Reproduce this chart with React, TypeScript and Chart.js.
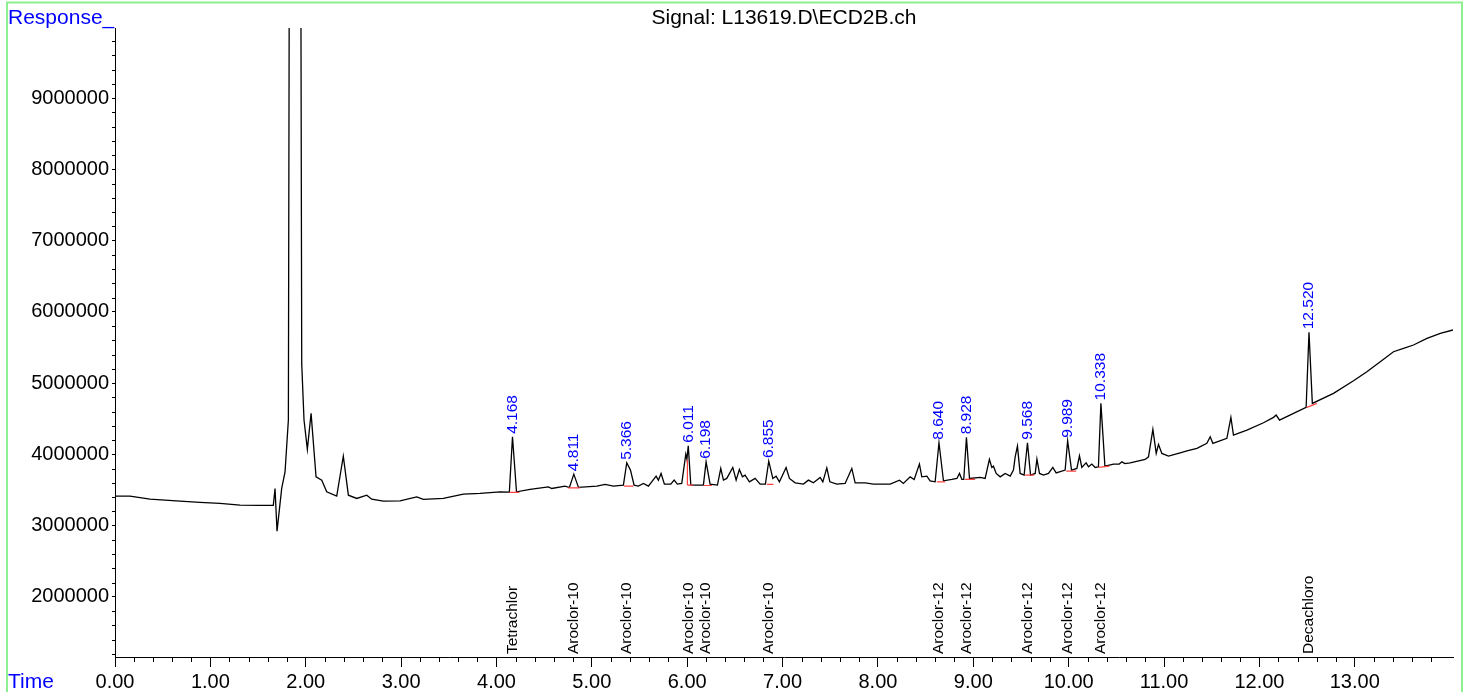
import React, { useEffect, useRef } from 'react';
import { Chart, registerables } from 'chart.js';

Chart.register(...registerables);

const FONT = '"Liberation Sans", Arial, Helvetica, sans-serif';

const chartTitle = 'Signal: L13619.D\\ECD2B.ch';
const yAxisTitle = 'Response_';
const xAxisTitle = 'Time';

const xMin = 0;
const xMax = 14.03;
const yMin = 1157300;
const yMax = 9983200;
const xMajorTicks = [0, 1, 2, 3, 4, 5, 6, 7, 8, 9, 10, 11, 12, 13];
const xMinorStep = 0.2;
const yMajorTicks = [2000000, 3000000, 4000000, 5000000, 6000000, 7000000, 8000000, 9000000];
const yMinorStep = 200000;

// chromatogram trace (time in min, response)
const traceTime = [
  0, 0.157, 0.367, 0.682, 0.891, 1.101, 1.311, 1.521, 1.66, 1.678,
  1.699, 1.748, 1.783, 1.818, 1.835, 1.89, 1.94, 1.958, 1.982, 2.017,
  2.056, 2.108, 2.168, 2.22, 2.325, 2.394, 2.447, 2.535, 2.64, 2.692,
  2.814, 2.989, 3.164, 3.233, 3.443, 3.653, 3.828, 4.038, 4.135, 4.168,
  4.21, 4.352, 4.544, 4.58, 4.719, 4.765, 4.811, 4.86, 5.052, 5.139,
  5.226, 5.331, 5.366, 5.405, 5.443, 5.488, 5.541, 5.593, 5.674, 5.698,
  5.726, 5.761, 5.828, 5.863, 5.897, 5.943, 5.985, 5.997, 6.011, 6.038,
  6.135, 6.17, 6.198, 6.24, 6.317, 6.352, 6.38, 6.415, 6.478, 6.513,
  6.547, 6.579, 6.607, 6.652, 6.712, 6.765, 6.82, 6.855, 6.898, 6.932,
  6.967, 7.037, 7.072, 7.132, 7.219, 7.271, 7.323, 7.394, 7.422, 7.464,
  7.496, 7.569, 7.656, 7.726, 7.761, 7.866, 7.953, 8.128, 8.226, 8.267,
  8.338, 8.38, 8.435, 8.46, 8.513, 8.547, 8.6, 8.64, 8.687, 8.775,
  8.828, 8.855, 8.88, 8.9, 8.928, 8.96, 9.072, 9.124, 9.169, 9.194,
  9.211, 9.24, 9.282, 9.334, 9.387, 9.421, 9.439, 9.463, 9.491, 9.533,
  9.568, 9.6, 9.649, 9.667, 9.694, 9.736, 9.788, 9.834, 9.869, 9.963,
  9.989, 10.03, 10.086, 10.113, 10.138, 10.183, 10.208, 10.243, 10.278, 10.312,
  10.338, 10.38, 10.47, 10.53, 10.558, 10.59, 10.645, 10.802, 10.837, 10.883,
  10.918, 10.942, 10.977, 11.047, 11.169, 11.24, 11.345, 11.449, 11.484, 11.512,
  11.659, 11.701, 11.728, 11.869, 12.043, 12.148, 12.176, 12.211, 12.358, 12.49,
  12.52, 12.555, 12.777, 12.987, 13.127, 13.267, 13.406, 13.511, 13.616, 13.757,
  13.897, 14.03,
];
const traceResponse = [
  3414000, 3414000, 3372000, 3344000, 3326000, 3312000, 3288000, 3284000, 3284000, 3522000,
  2923000, 3522000, 3756000, 4482000, 16000000, 25000000, 16000000, 5270000, 4482000, 4070000,
  4576000, 3685000, 3639000, 3475000, 3414000, 3976000, 3428000, 3382000, 3428000, 3372000,
  3344000, 3348000, 3404000, 3368000, 3382000, 3442000, 3452000, 3475000, 3470000, 4247000,
  3475000, 3508000, 3545000, 3522000, 3555000, 3535000, 3723000, 3537000, 3555000, 3579000,
  3555000, 3569000, 3882000, 3780000, 3569000, 3555000, 3593000, 3555000, 3695000, 3639000,
  3733000, 3583000, 3583000, 3639000, 3583000, 3593000, 4004000, 3930000, 4121000, 3569000,
  3569000, 3570000, 3896000, 3583000, 3569000, 3803000, 3639000, 3663000, 3817000, 3639000,
  3789000, 3685000, 3709000, 3615000, 3663000, 3583000, 3583000, 3906000, 3663000, 3695000,
  3615000, 3817000, 3663000, 3601000, 3583000, 3639000, 3601000, 3677000, 3615000, 3812000,
  3615000, 3583000, 3593000, 3803000, 3601000, 3601000, 3583000, 3583000, 3639000, 3593000,
  3685000, 3649000, 3864000, 3685000, 3695000, 3629000, 3615000, 4163000, 3629000, 3649000,
  3663000, 3733000, 3649000, 3649000, 4239000, 3663000, 3677000, 3663000, 3930000, 3817000,
  3835000, 3733000, 3685000, 3733000, 3695000, 3779000, 3966000, 4117000, 3733000, 3709000,
  4163000, 3709000, 3733000, 3934000, 3733000, 3709000, 3733000, 3817000, 3741000, 3780000,
  4191000, 3780000, 3803000, 3980000, 3817000, 3882000, 3826000, 3864000, 3817000, 3826000,
  4716000, 3836000, 3864000, 3864000, 3896000, 3870000, 3882000, 3930000, 3966000, 4351000,
  4014000, 4140000, 4014000, 3976000, 4022000, 4050000, 4084000, 4155000, 4247000, 4155000,
  4225000, 4520000, 4271000, 4341000, 4444000, 4520000, 4552000, 4482000, 4576000, 4660000,
  5714000, 4716000, 4857000, 5034000, 5160000, 5300000, 5441000, 5489000, 5535000, 5629000,
  5699000, 5746000,
];

// integrated peaks
const peakTimes = [4.168, 4.811, 5.366, 6.011, 6.198, 6.855, 8.64, 8.928, 9.568, 9.989, 10.338, 12.52];
const peakLabels = ['4.168', '4.811', '5.366', '6.011', '6.198', '6.855', '8.640', '8.928', '9.568', '9.989', '10.338', '12.520'];
const compoundNames = [
  'Tetrachlor', 'Aroclor-10', 'Aroclor-10', 'Aroclor-10', 'Aroclor-10', 'Aroclor-10',
  'Aroclor-12', 'Aroclor-12', 'Aroclor-12', 'Aroclor-12', 'Aroclor-12', 'Decachloro',
];

// integration baselines (red)
const baseStartTime = [4.135, 4.754, 5.338, 6.002, 6.17, 6.835, 8.618, 8.914, 9.544, 9.974, 10.312, 12.498];
const baseEndTime = [4.24, 4.877, 5.436, 6.065, 6.258, 6.904, 8.705, 9.019, 9.638, 10.079, 10.428, 12.603];
const baseStartValue = [3466000, 3531000, 3555000, 3569000, 3564000, 3579000, 3615000, 3649000, 3709000, 3765000, 3817000, 4660000];
const baseEndValue = [3466000, 3531000, 3555000, 3569000, 3564000, 3579000, 3615000, 3649000, 3709000, 3765000, 3836000, 4716000];
const dropLineTime = [6.002];
const dropLineTop = [3930000];
const dropLineBottom = [3569000];

export default function App() {
  const ref = useRef<HTMLCanvasElement>(null);

  useEffect(() => {
    const canvas = ref.current;
    if (!canvas) return;
    const ctx = canvas.getContext('2d');
    if (!ctx) return;

    const traceData = traceTime.map((t, i) => ({ x: t, y: traceResponse[i] }));
    const baseData: any[] = [];
    baseStartTime.forEach((t, i) => {
      baseData.push({ x: t, y: baseStartValue[i] });
      baseData.push({ x: baseEndTime[i], y: baseEndValue[i] });
      baseData.push({ x: baseEndTime[i], y: null });
    });
    dropLineTime.forEach((t, i) => {
      baseData.push({ x: t, y: dropLineBottom[i] });
      baseData.push({ x: t, y: dropLineTop[i] });
      baseData.push({ x: t, y: null });
    });

    const overlay = {
      id: 'overlay',
      beforeDraw(chart: any) {
        const c = chart.ctx;
        c.save();
        c.fillStyle = '#ffffff';
        c.fillRect(0, 0, chart.width, chart.height);
        c.restore();
      },
      afterDraw(chart: any) {
        const c = chart.ctx as CanvasRenderingContext2D;
        const area = chart.chartArea;
        const xs = chart.scales.x;
        const ys = chart.scales.y;
        c.save();

        // minor ticks
        c.strokeStyle = '#000';
        c.lineWidth = 1;
        c.beginPath();
        for (let i = 1; i * xMinorStep < xMax; i++) {
          if (i % 5 === 0) continue;
          const px = Math.round(xs.getPixelForValue(i * xMinorStep)) + 0.5;
          c.moveTo(px, area.bottom);
          c.lineTo(px, area.bottom + 5);
        }
        for (let i = Math.ceil(yMin / yMinorStep); i * yMinorStep <= yMax; i++) {
          if (i % 5 === 0) continue;
          const py = Math.round(ys.getPixelForValue(i * yMinorStep)) + 0.5;
          c.moveTo(area.left - 3, py);
          c.lineTo(area.left, py);
        }
        c.stroke();

        // retention time labels + compound names
        c.font = `15.5px ${FONT}`;
        c.textAlign = 'left';
        c.textBaseline = 'middle';
        peakTimes.forEach((t, i) => {
          const idx = traceTime.indexOf(t);
          const apex = traceResponse[idx];
          const px = xs.getPixelForValue(t);
          const py = ys.getPixelForValue(apex);
          c.save();
          c.translate(px, py - 3);
          c.rotate(-Math.PI / 2);
          c.fillStyle = '#0000ff';
          c.fillText(peakLabels[i], 0, 0);
          c.restore();
          c.save();
          c.translate(px, area.bottom - 3);
          c.rotate(-Math.PI / 2);
          c.fillStyle = '#000000';
          c.fillText(compoundNames[i], 0, 0);
          c.restore();
        });

        // titles
        c.textBaseline = 'alphabetic';
        c.font = `21px ${FONT}`;
        c.fillStyle = '#0000ff';
        c.textAlign = 'left';
        c.fillText(yAxisTitle, 8, 23.5);
        c.fillText(xAxisTitle, 8, 688);
        c.fillStyle = '#000000';
        c.textAlign = 'center';
        c.fillText(chartTitle, (area.left + area.right) / 2, 23.5);

        // frame
        c.strokeStyle = '#8ef08e';
        c.lineWidth = 2;
        c.strokeRect(7, 2.5, 1455, 800);
        c.restore();
      },
    };

    const chart = new Chart(ctx, {
      type: 'line',
      data: {
        datasets: [
          {
            data: baseData,
            borderColor: '#ff4040',
            borderWidth: 1.2,
            pointRadius: 0,
            spanGaps: false,
            order: 0,
          },
          {
            data: traceData,
            borderColor: '#000000',
            borderWidth: 1.3,
            pointRadius: 0,
            tension: 0,
            order: 1,
          },
        ],
      },
      options: {
        responsive: false,
        animation: false,
        devicePixelRatio: 1,
        events: [],
        layout: { padding: { top: 28, right: 16, bottom: 0, left: 0 } },
        plugins: {
          legend: { display: false },
          tooltip: { enabled: false },
          title: { display: false },
        },
        scales: {
          x: {
            type: 'linear',
            position: 'bottom',
            min: xMin,
            max: xMax,
            afterBuildTicks: (s: any) => {
              s.ticks = xMajorTicks.map((v) => ({ value: v }));
            },
            afterFit: (s: any) => {
              s.height = 35;
            },
            grid: { drawOnChartArea: false, drawTicks: true, tickLength: 10, color: '#000', tickWidth: 1 },
            border: { display: true, color: '#000', width: 1 },
            ticks: {
              callback: (v: any) => Number(v).toFixed(2),
              font: { size: 20, family: FONT },
              color: '#000',
              padding: 3,
              maxRotation: 0,
              autoSkip: false,
            },
          },
          y: {
            type: 'linear',
            min: yMin,
            max: yMax,
            afterBuildTicks: (s: any) => {
              s.ticks = yMajorTicks.map((v) => ({ value: v }));
            },
            afterFit: (s: any) => {
              s.width = 115;
            },
            grid: { drawOnChartArea: false, drawTicks: true, tickLength: 3, color: '#000', tickWidth: 1 },
            border: { display: true, color: '#000', width: 1 },
            ticks: {
              callback: (v: any) => String(v),
              font: { size: 20, family: FONT },
              color: '#000',
              padding: 3,
              autoSkip: false,
            },
          },
        },
      },
      plugins: [overlay],
    } as any);

    return () => chart.destroy();
  }, []);

  return (
    <div style={{ position: 'absolute', left: 0, top: 0, width: 1469, height: 692, background: '#fff' }}>
      <canvas ref={ref} width={1469} height={692} style={{ display: 'block', width: 1469, height: 692 }} />
    </div>
  );
}
